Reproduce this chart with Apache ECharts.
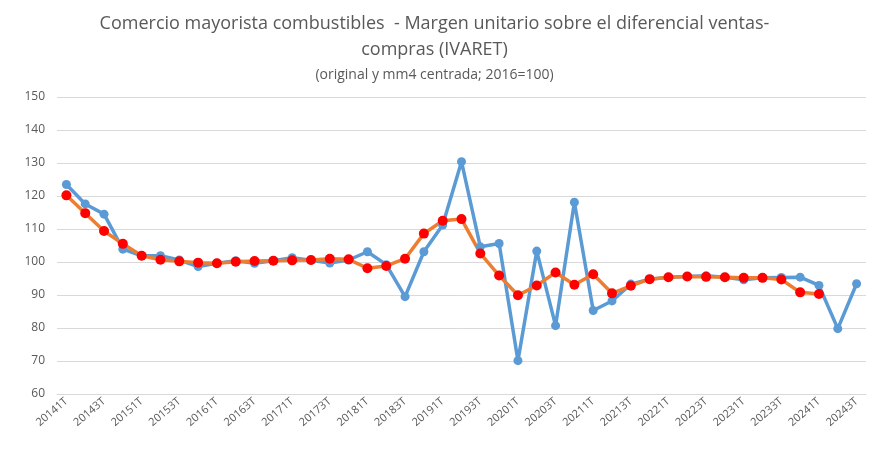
<!DOCTYPE html>
<html>
<head>
<meta charset="utf-8">
<script src="https://cdn.jsdelivr.net/npm/echarts@6/dist/echarts.min.js"></script>
<style>
  html, body { margin: 0; padding: 0; background: #fff; }
  #chart { width: 869px; height: 454px; }
</style>
</head>
<body>
<div id="chart"></div>
<script>
// trimestres 2014T1 .. 2024T3
var quarters = ['20141T','20142T','20143T','20144T','20151T','20152T','20153T','20154T',
  '20161T','20162T','20163T','20164T','20171T','20172T','20173T','20174T',
  '20181T','20182T','20183T','20184T','20191T','20192T','20193T','20194T',
  '20201T','20202T','20203T','20204T','20211T','20212T','20213T','20214T',
  '20221T','20222T','20223T','20224T','20231T','20232T','20233T','20234T',
  '20241T','20242T','20243T'];

// serie original
var original = [123.5, 117.6, 114.5, 103.9, 101.9, 101.9, 100.6, 98.6,
  99.6, 100.4, 99.6, 100.4, 101.3, 100.5, 99.7, 100.6,
  103.1, 99.2, 89.5, 103.1, 111.2, 130.4, 104.6, 105.6,
  70.1, 103.3, 80.7, 118.1, 85.3, 88.2, 93.3, 94.8,
  95.4, 95.6, 95.8, 95.4, 94.6, 95.2, 95.3, 95.4,
  92.9, 79.8, 93.4];

// media movil 4 centrada
var mm4 = [120.2, 114.8, 109.4, 105.5, 101.9, 100.7, 100.2, 99.8,
  99.6, 100.1, 100.3, 100.4, 100.5, 100.6, 101.0, 100.8,
  98.1, 98.8, 101.0, 108.6, 112.5, 113.0, 102.6, 95.9,
  89.9, 92.9, 96.8, 93.1, 96.3, 90.5, 92.8, 94.8,
  95.4, 95.6, 95.5, 95.4, 95.2, 95.2, 94.7, 90.8,
  90.3, null, null];

var yTicks = { min: 60, max: 150, step: 10 };

var myChart = echarts.init(document.getElementById('chart'));

var option = {
  animation: false,
  title: {
    text: 'Comercio mayorista combustibles  - Margen unitario sobre el diferencial ventas-\ncompras (IVARET)',
    subtext: '(original y mm4 centrada; 2016=100)',
    left: 'center',
    top: 6,
    itemGap: 5,
    textStyle: { fontFamily: 'Open Sans', fontSize: 18, fontWeight: 'normal', color: '#595959', lineHeight: 26 },
    subtextStyle: { fontFamily: 'Open Sans', fontSize: 14, color: '#595959' }
  },
  grid: { left: 57, right: 3, top: 97, bottom: 60 },
  xAxis: {
    type: 'category',
    data: quarters,
    boundaryGap: true,
    axisTick: { show: false },
    axisLine: { lineStyle: { color: '#d9d9d9' } },
    axisLabel: { interval: 1, rotate: 40, color: '#595959', fontSize: 11, fontFamily: 'Open Sans', margin: 6 }
  },
  yAxis: {
    type: 'value',
    min: yTicks.min,
    max: yTicks.max,
    interval: yTicks.step,
    axisLine: { show: false },
    axisTick: { show: false },
    axisLabel: { color: '#595959', fontSize: 12, fontFamily: 'Open Sans', margin: 12 },
    splitLine: { lineStyle: { color: '#d9d9d9', width: 1 } }
  },
  series: [{
    name: 'original',
    type: 'line',
    data: original,
    symbol: 'circle',
    symbolSize: 9,
    lineStyle: { color: '#5B9BD5', width: 3.5 },
    itemStyle: { color: '#5B9BD5' }
  }, {
    name: 'mm4 centrada',
    type: 'line',
    data: mm4,
    symbol: 'circle',
    symbolSize: 10,
    lineStyle: { color: '#ED7D31', width: 3.5 },
    itemStyle: { color: '#FF0000' }
  }]
};

myChart.setOption(option);
</script>
</body>
</html>
